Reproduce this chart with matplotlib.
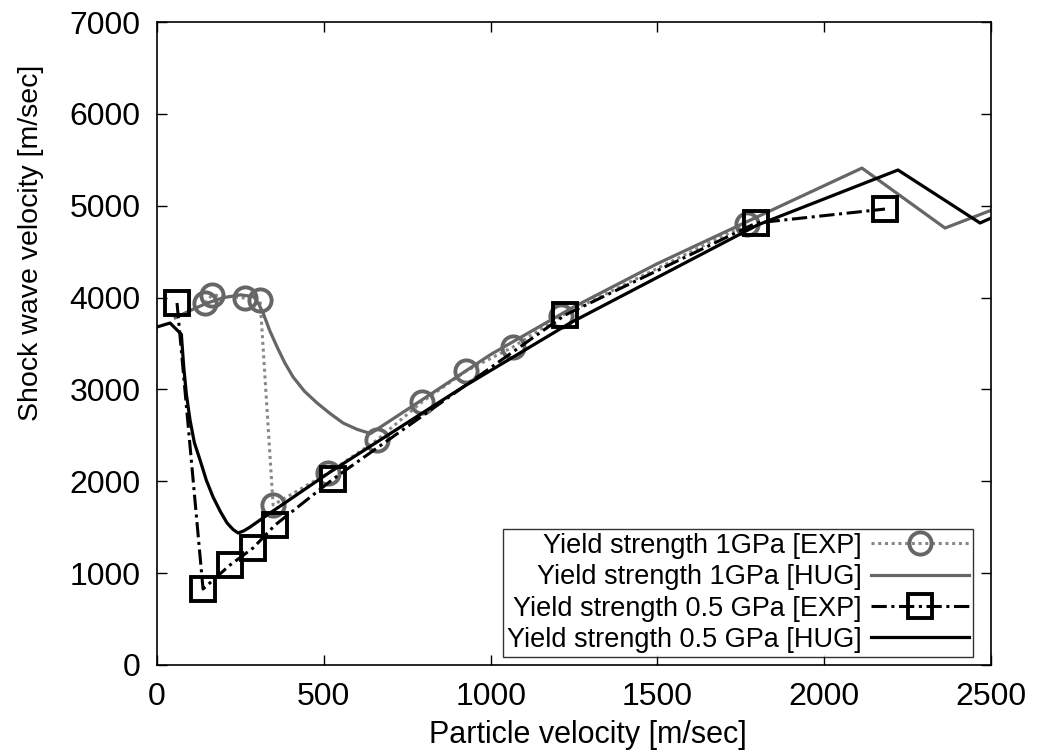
import matplotlib
matplotlib.use('Agg')
import matplotlib.pyplot as plt

plt.rcParams['font.family'] = ['Liberation Sans', 'DejaVu Sans']

# Yield strength 1GPa, experiment (circles)
exp1_x = [144, 165, 264, 309, 348, 513, 659, 794, 926, 1067, 1211, 1769]
exp1_y = [3941, 4028, 3995, 3973, 1742, 2090, 2449, 2863, 3200, 3462, 3799, 4801]

# Yield strength 1GPa, Hugoniot
hug1_x = [55, 100, 150, 200, 250, 290, 305, 318, 338, 360, 383, 408, 442, 480,
          518, 558, 600, 640, 800, 1000, 1250, 1500, 1800, 2113, 2362, 2500]
hug1_y = [3780, 3860, 3940, 4000, 4030, 4010, 3930, 3832, 3640, 3462, 3290, 3135,
          2980, 2852, 2740, 2634, 2565, 2520, 2900, 3380, 3900, 4370, 4880, 5410,
          4757, 4950]

# Yield strength 0.5 GPa, experiment (squares)
exp05_x = [60, 138, 219, 288, 354, 528, 1223, 1796, 2182]
exp05_y = [3941, 827, 1089, 1274, 1524, 2025, 3810, 4812, 4964]

# Yield strength 0.5 GPa, Hugoniot
hug05_x = [0, 39, 73, 76, 80, 88, 99, 112, 129, 148, 168, 190, 210, 228, 243,
           260, 279, 339, 519, 917, 1238, 1800, 2221, 2467, 2500]
hug05_y = [3680, 3723, 3600, 3450, 3250, 2950, 2667, 2420, 2232, 2010, 1829, 1670,
           1546, 1475, 1437, 1460, 1502, 1655, 2101, 3026, 3723, 4790, 5389, 4812,
           4866]

gray = '#666666'

fig = plt.figure(figsize=(10.37, 7.52), dpi=100)
ax = fig.add_axes([0.1514, 0.1157, 0.8043, 0.855])

ax.plot(exp1_x, exp1_y, linestyle=(0, (1, 1.2)), color='#888888', lw=2.2,
        marker='o', markersize=16, markerfacecolor='none', markeredgecolor=gray,
        markeredgewidth=2.8, label='Yield strength 1GPa [EXP]')
ax.plot(hug1_x, hug1_y, '-', color=gray, lw=2.3, label='Yield strength 1GPa [HUG]')
ax.plot(exp05_x, exp05_y, linestyle=(0, (5, 1.5, 1, 1.5)), color='black', lw=2.2,
        marker='s', markersize=17, markerfacecolor='none', markeredgecolor='black',
        markeredgewidth=2.8, label='Yield strength 0.5 GPa [EXP]')
ax.plot(hug05_x, hug05_y, '-', color='black', lw=2.3, label='Yield strength 0.5 GPa [HUG]')

ax.set_xlim(0, 2500)
ax.set_ylim(0, 7000)
ax.set_xticks(range(0, 2501, 500))
ax.set_yticks(range(0, 7001, 1000))
ax.tick_params(direction='in', length=7, width=1, top=True, right=True,
               labelsize=23, pad=12)
for s in ax.spines.values():
    s.set_linewidth(1.2)

ax.set_xlabel('Particle velocity [m/sec]', fontsize=22)
ax.set_ylabel('Shock wave velocity [m/sec]', fontsize=20.5)
ax.xaxis.set_label_coords(0.516, -0.085)
ax.yaxis.set_label_coords(-0.136, 0.656)

leg = ax.legend(loc='lower right', bbox_to_anchor=(0.978, 0.0124),
                markerfirst=False, fontsize=19.5, frameon=True,
                fancybox=False, edgecolor='black', handlelength=3.6,
                borderpad=0.15, labelspacing=0.2, handletextpad=0.35,
                borderaxespad=0)
leg.get_frame().set_linewidth(1.0)
for t in leg.get_texts():
    t.set_ha('right')

fig.savefig('out.png', dpi=100)
